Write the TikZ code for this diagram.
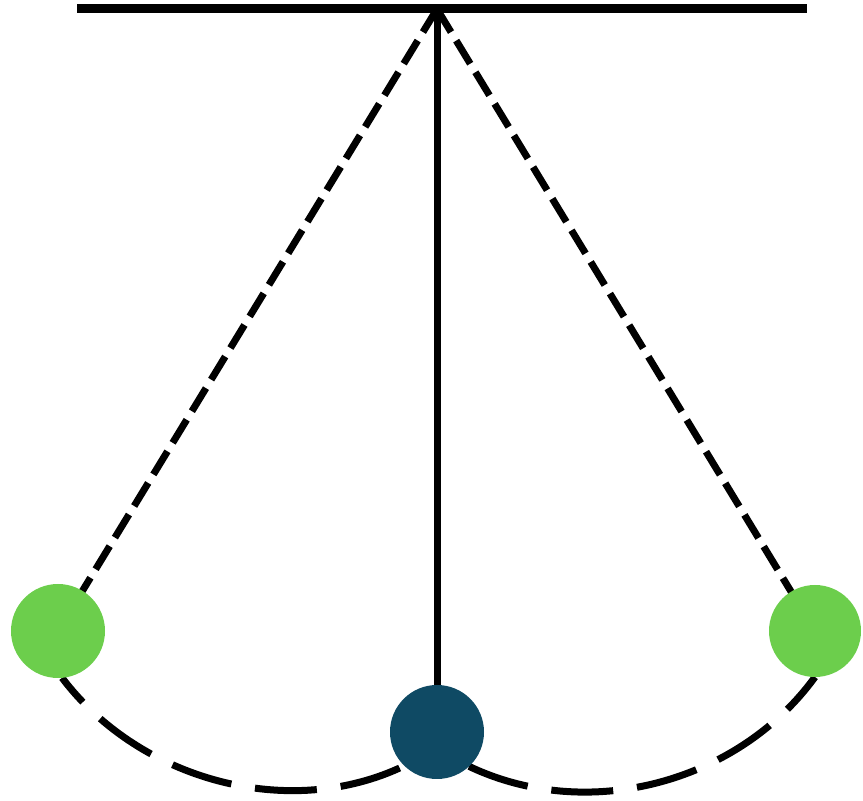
\documentclass[tikz,border=0pt]{standalone}
\usetikzlibrary{backgrounds}
\definecolor{ballgreen}{RGB}{108,206,76}
\definecolor{balldark}{RGB}{15,74,100}
\tikzset{
  ball/.style={circle,inner sep=0pt,outer sep=0pt,minimum size=#1},
  bar/.style={line width=9pt},
  rod/.style={line width=7pt},
  swing/.style={line width=7pt,dash pattern=on 27pt off 10pt},
  path/.style={line width=7pt,dash pattern=on 62pt off 24pt},
}
\begin{document}
\begin{tikzpicture}[x=1pt,y=1pt]
\useasboundingbox (0,0) rectangle (863,801);
\coordinate (barL) at (77,792);
\coordinate (barR) at (807,792);
\coordinate (pivot) at (437,792);
\node[ball=94pt,fill=ballgreen] (left) at (58,170) {};
\node[ball=92pt,fill=ballgreen] (right) at (815,170) {};
\node[ball=94pt,fill=balldark] (bottom) at (437,69) {};
\begin{scope}[on background layer]
  \draw[bar] (barL) -- (barR);
  \draw[swing] (pivot) -- (left.center);
  \draw[swing] (pivot) -- (right.center);
  \draw[rod] (pivot) -- (bottom.north);
  \draw[path,dash phase=30pt] (left.-85) .. controls (140,20) and (290,-20) .. (bottom.-134);
  \draw[path] (bottom.-47) .. controls (588,-22) and (738,18) .. (right.-90);
\end{scope}
\end{tikzpicture}
\end{document}
